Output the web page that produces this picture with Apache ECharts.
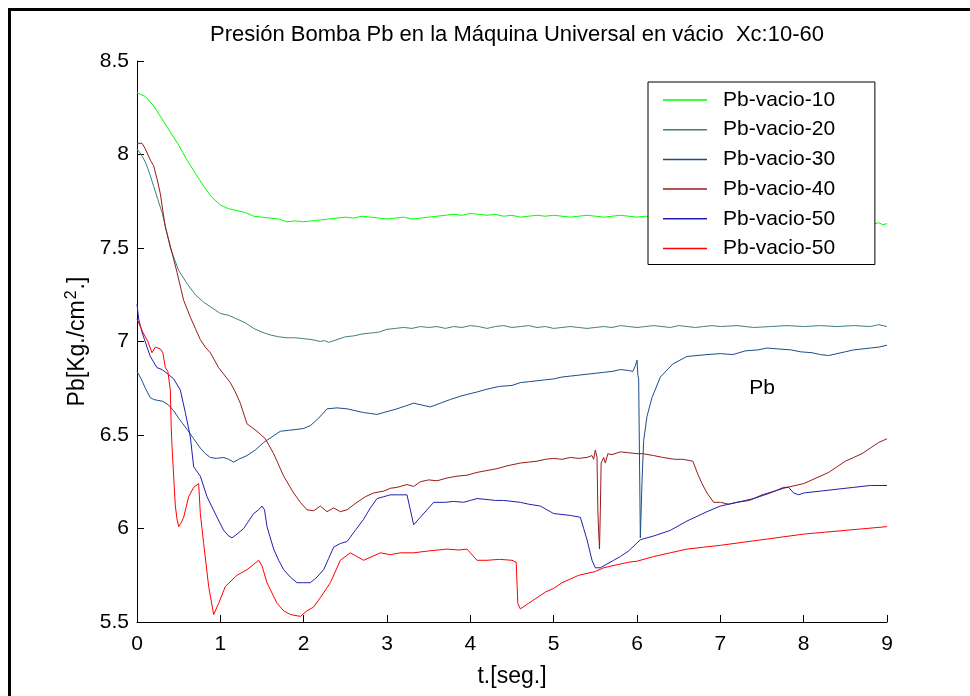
<!DOCTYPE html>
<html lang="es">
<head>
<meta charset="utf-8">
<title>Presión Bomba Pb</title>
<script src="https://cdn.jsdelivr.net/npm/echarts@6/dist/echarts.min.js"></script>
<style>
  html, body { margin: 0; padding: 0; background: #fff; }
  #chart { width: 970px; height: 696px; }
</style>
</head>
<body>
<div id="chart"></div>
<script>
// datos: [t (seg), Pb (Kg/cm2)]
var pbVacio10 = [[0,8.33],[0.05,8.32],[0.1,8.31],[0.2,8.26],[0.3,8.19],[0.4,8.12],[0.5,8.05],[0.6,7.97],[0.7,7.9],[0.8,7.83],[0.9,7.77],[1.0,7.73],[1.1,7.71],[1.2,7.7],[1.3,7.69],[1.4,7.67],[1.5,7.665],[1.6,7.66],[1.7,7.655],[1.8,7.64],[1.9,7.645],[2.0,7.64],[2.1,7.645],[2.2,7.65],[2.3,7.655],[2.4,7.66],[2.5,7.665],[2.6,7.66],[2.7,7.67],[2.8,7.665],[2.9,7.66],[3.0,7.655],[3.1,7.66],[3.2,7.665],[3.3,7.655],[3.4,7.66],[3.5,7.665],[3.6,7.67],[3.7,7.675],[3.8,7.68],[3.9,7.675],[4.0,7.685],[4.1,7.68],[4.2,7.675],[4.3,7.68],[4.4,7.67],[4.5,7.675],[4.6,7.665],[4.7,7.67],[4.8,7.675],[4.9,7.67],[5.0,7.675],[5.1,7.67],[5.2,7.665],[5.3,7.67],[5.4,7.675],[5.5,7.67],[5.6,7.665],[5.7,7.67],[5.8,7.675],[5.9,7.67],[6.0,7.665],[6.1,7.67],[6.2,7.665],[6.4,7.66],[6.6,7.665],[6.8,7.66],[7.0,7.66],[7.2,7.655],[7.4,7.66],[7.6,7.655],[7.8,7.65],[8.0,7.65],[8.2,7.645],[8.4,7.64],[8.6,7.64],[8.8,7.635],[8.85,7.63],[8.9,7.635],[8.95,7.625],[9.0,7.63]];

var pbVacio20 = [[0,8.03],[0.05,8.0],[0.1,7.96],[0.15,7.9],[0.2,7.83],[0.25,7.76],[0.3,7.69],[0.35,7.6],[0.4,7.5],[0.45,7.44],[0.5,7.38],[0.6,7.31],[0.7,7.25],[0.8,7.21],[0.9,7.18],[1.0,7.15],[1.1,7.14],[1.2,7.12],[1.3,7.1],[1.4,7.07],[1.5,7.05],[1.6,7.035],[1.7,7.025],[1.8,7.02],[1.9,7.02],[2.0,7.015],[2.1,7.01],[2.2,7.0],[2.25,7.005],[2.3,6.995],[2.4,7.01],[2.5,7.025],[2.6,7.03],[2.7,7.04],[2.8,7.045],[2.9,7.05],[3.0,7.065],[3.1,7.07],[3.2,7.075],[3.3,7.07],[3.4,7.08],[3.5,7.075],[3.6,7.08],[3.7,7.07],[3.8,7.08],[3.9,7.075],[4.0,7.085],[4.1,7.08],[4.2,7.07],[4.3,7.08],[4.4,7.085],[4.5,7.075],[4.6,7.08],[4.7,7.085],[4.8,7.075],[4.9,7.08],[5.0,7.07],[5.1,7.075],[5.2,7.08],[5.3,7.075],[5.4,7.07],[5.5,7.075],[5.6,7.08],[5.7,7.075],[5.8,7.085],[5.9,7.08],[6.0,7.075],[6.1,7.08],[6.2,7.085],[6.3,7.08],[6.4,7.075],[6.5,7.085],[6.6,7.08],[6.7,7.075],[6.8,7.08],[6.9,7.085],[7.0,7.08],[7.2,7.085],[7.4,7.075],[7.6,7.08],[7.8,7.085],[8.0,7.08],[8.2,7.085],[8.4,7.08],[8.6,7.085],[8.8,7.08],[8.9,7.09],[9.0,7.08]];

var pbVacio30 = [[0,6.84],[0.05,6.8],[0.1,6.75],[0.16,6.7],[0.2,6.69],[0.25,6.685],[0.31,6.68],[0.38,6.66],[0.44,6.63],[0.5,6.59],[0.55,6.56],[0.6,6.53],[0.68,6.48],[0.76,6.43],[0.82,6.4],[0.88,6.38],[0.95,6.375],[1.04,6.38],[1.1,6.37],[1.16,6.355],[1.22,6.37],[1.32,6.39],[1.42,6.42],[1.52,6.46],[1.62,6.49],[1.72,6.52],[1.82,6.525],[1.92,6.53],[2.0,6.535],[2.08,6.55],[2.18,6.59],[2.28,6.64],[2.4,6.645],[2.52,6.64],[2.62,6.63],[2.72,6.62],[2.8,6.615],[2.88,6.61],[3.0,6.625],[3.12,6.64],[3.22,6.655],[3.32,6.67],[3.42,6.66],[3.52,6.65],[3.64,6.67],[3.76,6.69],[3.9,6.71],[4.08,6.73],[4.2,6.745],[4.35,6.76],[4.5,6.765],[4.6,6.78],[4.7,6.785],[4.8,6.79],[4.9,6.795],[5.0,6.8],[5.1,6.81],[5.2,6.815],[5.3,6.82],[5.4,6.825],[5.5,6.83],[5.6,6.835],[5.7,6.84],[5.8,6.85],[5.9,6.845],[5.95,6.84],[5.98,6.87],[6.0,6.9],[6.01,6.82],[6.02,6.8],[6.04,5.95],[6.06,6.25],[6.08,6.47],[6.12,6.6],[6.18,6.7],[6.28,6.81],[6.43,6.88],[6.6,6.92],[6.84,6.93],[7.0,6.935],[7.15,6.93],[7.3,6.95],[7.45,6.955],[7.56,6.965],[7.7,6.96],[7.85,6.955],[7.96,6.945],[8.1,6.94],[8.2,6.93],[8.3,6.925],[8.4,6.935],[8.5,6.945],[8.6,6.955],[8.7,6.96],[8.8,6.965],[8.9,6.97],[9.0,6.98]];

var pbVacio40 = [[0,8.06],[0.06,8.06],[0.1,8.03],[0.16,7.97],[0.2,7.94],[0.24,7.87],[0.28,7.79],[0.34,7.61],[0.4,7.51],[0.48,7.37],[0.56,7.22],[0.64,7.13],[0.7,7.07],[0.76,7.01],[0.82,6.97],[0.88,6.94],[0.98,6.86],[1.05,6.82],[1.12,6.78],[1.18,6.73],[1.24,6.67],[1.32,6.56],[1.38,6.54],[1.44,6.52],[1.54,6.48],[1.64,6.4],[1.76,6.28],[1.88,6.19],[1.96,6.14],[2.04,6.1],[2.12,6.095],[2.2,6.12],[2.28,6.09],[2.36,6.11],[2.44,6.09],[2.52,6.1],[2.64,6.14],[2.74,6.17],[2.84,6.19],[2.96,6.2],[3.04,6.215],[3.12,6.22],[3.24,6.235],[3.32,6.225],[3.4,6.25],[3.5,6.26],[3.6,6.255],[3.72,6.27],[3.84,6.28],[3.96,6.285],[4.08,6.3],[4.2,6.31],[4.32,6.32],[4.44,6.335],[4.6,6.35],[4.7,6.355],[4.8,6.36],[4.9,6.37],[5.0,6.375],[5.1,6.37],[5.2,6.38],[5.3,6.375],[5.4,6.38],[5.46,6.39],[5.48,6.37],[5.5,6.42],[5.52,6.38],[5.53,6.1],[5.54,5.98],[5.55,5.89],[5.56,6.1],[5.57,6.35],[5.6,6.38],[5.62,6.35],[5.65,6.4],[5.7,6.395],[5.8,6.41],[5.9,6.405],[6.0,6.4],[6.07,6.4],[6.2,6.39],[6.31,6.38],[6.45,6.37],[6.55,6.37],[6.67,6.36],[6.73,6.29],[6.78,6.24],[6.84,6.19],[6.92,6.14],[7.0,6.14],[7.1,6.13],[7.2,6.14],[7.35,6.15],[7.5,6.18],[7.65,6.2],[7.8,6.22],[8.0,6.24],[8.1,6.26],[8.2,6.28],[8.3,6.3],[8.4,6.33],[8.5,6.36],[8.6,6.38],[8.7,6.4],[8.8,6.43],[8.9,6.46],[9.0,6.48]];

var pbVacio50a = [[0,7.2],[0.02,7.12],[0.06,7.05],[0.12,6.97],[0.16,6.92],[0.24,6.86],[0.3,6.85],[0.36,6.83],[0.44,6.8],[0.52,6.74],[0.58,6.62],[0.64,6.49],[0.68,6.33],[0.76,6.28],[0.84,6.17],[0.96,6.06],[1.04,5.99],[1.1,5.96],[1.14,5.95],[1.2,5.97],[1.28,6.0],[1.34,6.04],[1.4,6.08],[1.46,6.1],[1.5,6.12],[1.53,6.1],[1.56,6.01],[1.64,5.89],[1.7,5.83],[1.76,5.78],[1.84,5.74],[1.92,5.71],[2.0,5.71],[2.08,5.71],[2.16,5.74],[2.24,5.78],[2.3,5.84],[2.36,5.9],[2.44,5.92],[2.52,5.93],[2.62,5.99],[2.72,6.05],[2.8,6.11],[2.88,6.16],[2.96,6.17],[3.04,6.18],[3.14,6.18],[3.24,6.18],[3.28,6.1],[3.32,6.02],[3.4,6.06],[3.48,6.1],[3.56,6.14],[3.7,6.14],[3.8,6.145],[3.92,6.14],[4.0,6.15],[4.08,6.16],[4.2,6.155],[4.3,6.15],[4.4,6.15],[4.5,6.145],[4.6,6.14],[4.7,6.13],[4.84,6.12],[4.92,6.1],[5.0,6.08],[5.1,6.075],[5.2,6.07],[5.32,6.06],[5.36,6.0],[5.4,5.94],[5.46,5.83],[5.5,5.79],[5.56,5.79],[5.64,5.81],[5.72,5.83],[5.8,5.85],[5.9,5.88],[6.04,5.94],[6.2,5.96],[6.4,5.99],[6.6,6.04],[6.84,6.09],[7.0,6.12],[7.2,6.14],[7.4,6.16],[7.6,6.19],[7.76,6.22],[7.82,6.22],[7.88,6.19],[7.94,6.18],[8.0,6.19],[8.2,6.2],[8.4,6.21],[8.6,6.22],[8.8,6.23],[9.0,6.23]];

var pbVacio50b = [[0,7.12],[0.07,7.05],[0.13,7.0],[0.18,6.94],[0.22,6.97],[0.28,6.96],[0.31,6.94],[0.34,6.86],[0.37,6.84],[0.4,6.74],[0.41,6.55],[0.42,6.44],[0.44,6.28],[0.46,6.12],[0.48,6.05],[0.5,6.01],[0.53,6.03],[0.56,6.06],[0.62,6.17],[0.68,6.22],[0.74,6.24],[0.76,6.08],[0.8,5.92],[0.86,5.69],[0.92,5.54],[0.98,5.6],[1.06,5.69],[1.2,5.75],[1.32,5.78],[1.46,5.83],[1.5,5.8],[1.56,5.71],[1.68,5.6],[1.76,5.56],[1.84,5.54],[1.96,5.53],[2.04,5.56],[2.12,5.58],[2.2,5.63],[2.32,5.71],[2.44,5.83],[2.56,5.87],[2.64,5.85],[2.72,5.83],[2.82,5.85],[2.92,5.87],[3.04,5.86],[3.16,5.87],[3.32,5.87],[3.5,5.88],[3.72,5.89],[3.86,5.885],[3.96,5.89],[4.08,5.83],[4.2,5.83],[4.35,5.835],[4.5,5.83],[4.55,5.82],[4.57,5.6],[4.6,5.57],[4.7,5.6],[4.8,5.63],[4.9,5.66],[5.0,5.68],[5.1,5.71],[5.2,5.73],[5.3,5.75],[5.4,5.76],[5.5,5.77],[5.6,5.79],[5.7,5.8],[5.8,5.81],[5.9,5.82],[6.0,5.825],[6.2,5.85],[6.4,5.87],[6.6,5.89],[6.8,5.9],[7.0,5.91],[7.25,5.925],[7.5,5.94],[7.75,5.955],[8.0,5.97],[8.25,5.98],[8.5,5.99],[8.75,6.0],[9.0,6.01]];

var names = ['Pb-vacio-10', 'Pb-vacio-20', 'Pb-vacio-30', 'Pb-vacio-40', 'Pb-vacio-50', 'Pb-vacio-50 '];
var colors = ['#00ff00', '#408080', '#1c4e8a', '#991a1a', '#2020b0', '#ff0000'];
var datos = [pbVacio10, pbVacio20, pbVacio30, pbVacio40, pbVacio50a, pbVacio50b];

var fuente = '"Liberation Sans", Arial, Helvetica, sans-serif';

var series = datos.map(function (d, i) {
    return {
        name: names[i],
        type: 'line',
        data: d,
        showSymbol: false,
        symbol: 'none',
        lineStyle: { color: colors[i], width: 1 },
        itemStyle: { color: colors[i] },
        emphasis: { disabled: true }
    };
});

var chart = echarts.init(document.getElementById('chart'));
var option = {
    animation: false,
    backgroundColor: '#fff',
    textStyle: { fontFamily: fuente },
    title: {
        text: 'Presión Bomba Pb en la Máquina Universal en vácio  Xc:10-60',
        left: 512,
        textAlign: 'center',
        top: 19,
        textStyle: { fontFamily: fuente, fontSize: 22, fontWeight: 'normal', color: '#000' }
    },
    grid: { left: 137, right: 83, top: 61, bottom: 74 },
    legend: {
        orient: 'vertical',
        left: 648,
        top: 82,
        padding: [7, 34, 5, 15],
        itemGap: 7.7,
        itemWidth: 44,
        itemHeight: 1.5,
        icon: 'rect',
        backgroundColor: '#fff',
        borderColor: '#000',
        borderWidth: 1,
        borderRadius: 0,
        textStyle: { fontFamily: fuente, fontSize: 21, color: '#000', lineHeight: 22, padding: [0, 0, 0, 11] },
        data: names
    },
    xAxis: {
        type: 'value',
        min: 0,
        max: 9,
        interval: 1,
        name: 't.[seg.]',
        nameLocation: 'middle',
        nameGap: 43,
        nameTextStyle: { fontFamily: fuente, fontSize: 23, color: '#000' },
        axisLine: { lineStyle: { color: '#000', width: 1 } },
        axisTick: { inside: true, length: 7, lineStyle: { color: '#000' } },
        axisLabel: { fontFamily: fuente, fontSize: 21, color: '#000', margin: 12 },
        splitLine: { show: false }
    },
    yAxis: {
        type: 'value',
        min: 5.5,
        max: 8.5,
        interval: 0.5,
        name: '{a|Pb[Kg./cm}{s|2}{a|.]}',
        nameLocation: 'middle',
        nameGap: 44,
        nameRotate: 90,
        nameTextStyle: {
            fontFamily: fuente, color: '#000',
            rich: {
                a: { fontFamily: fuente, fontSize: 23, color: '#000' },
                s: { fontFamily: fuente, fontSize: 16, color: '#000', verticalAlign: 'top', padding: [0, 1, 12, 1] }
            }
        },
        axisLine: { show: true, lineStyle: { color: '#000', width: 1 } },
        axisTick: { show: true, inside: true, length: 7, lineStyle: { color: '#000' } },
        axisLabel: { fontFamily: fuente, fontSize: 21, color: '#000', margin: 8 },
        splitLine: { show: false }
    },
    graphic: [
        { type: 'line', shape: { x1: 8, y1: 9.5, x2: 970, y2: 9.5 }, style: { stroke: '#000', lineWidth: 3 } },
        { type: 'line', shape: { x1: 9.5, y1: 8, x2: 9.5, y2: 696 }, style: { stroke: '#000', lineWidth: 3 } },
        { type: 'text', x: 762, y: 388, style: { text: 'Pb', fontFamily: fuente, fontSize: 21, fill: '#000', textAlign: 'center', textVerticalAlign: 'middle' } }
    ],
    series: series
};
chart.setOption(option);
</script>
</body>
</html>
